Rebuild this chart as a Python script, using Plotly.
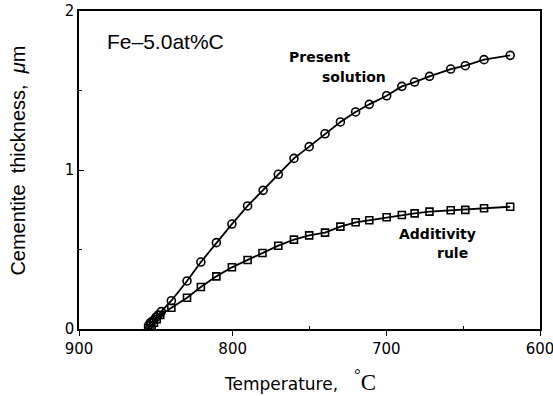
import plotly.graph_objects as go

# Present solution (circles)
temp_present = [854.6, 853.5, 851.8, 850.0, 848.4, 846.5, 839.9, 829.7, 820.7, 810.6,
                800.5, 790.3, 780.2, 770.3, 760.1, 750.2, 739.9, 729.9, 720.0, 711.1,
                699.8, 689.9, 681.6, 671.9, 658.1, 648.6, 636.4, 619.4]
thick_present = [0.025, 0.040, 0.052, 0.073, 0.088, 0.109, 0.178, 0.302, 0.421, 0.543,
                 0.660, 0.774, 0.872, 0.973, 1.073, 1.147, 1.228, 1.302, 1.365, 1.413,
                 1.467, 1.526, 1.553, 1.589, 1.635, 1.656, 1.694, 1.721]

# Additivity rule (squares)
temp_additivity = [855.0, 853.5, 851.2, 849.4, 847.1, 839.9, 829.7, 820.7, 810.6, 800.5,
                   790.3, 780.6, 770.3, 760.1, 750.2, 739.9, 729.9, 720.0, 711.1, 699.8,
                   689.9, 681.6, 671.9, 658.1, 648.6, 636.4, 619.4]
thick_additivity = [0.004, 0.019, 0.040, 0.061, 0.088, 0.134, 0.197, 0.264, 0.331, 0.388,
                    0.434, 0.478, 0.524, 0.562, 0.589, 0.606, 0.644, 0.671, 0.684, 0.703,
                    0.717, 0.727, 0.738, 0.747, 0.749, 0.759, 0.769]

fig = go.Figure()
fig.add_trace(go.Scatter(
    x=temp_present, y=thick_present, mode="lines+markers",
    line=dict(color="black", width=1.8),
    marker=dict(symbol="circle-open", size=8, color="black", line=dict(width=1.6)),
    showlegend=False))
fig.add_trace(go.Scatter(
    x=temp_additivity, y=thick_additivity, mode="lines+markers",
    line=dict(color="black", width=1.8),
    marker=dict(symbol="square-open", size=7, color="black", line=dict(width=1.6)),
    showlegend=False))

font = "DejaVu Sans, Verdana, sans-serif"
helv = "Liberation Sans, Arial, sans-serif"
fig.update_layout(
    width=553, height=396,
    margin=dict(l=79, r=13, t=11, b=67),
    paper_bgcolor="white", plot_bgcolor="white",
    font=dict(family=font, color="black"),
    xaxis=dict(range=[900, 600], tickvals=[900, 800, 700, 600], automargin=False,
               ticklabeloverflow="allow",
               ticks="outside", ticklen=5, tickwidth=1.3, tickcolor="black",
               minor=dict(ticks="inside", ticklen=3, tickvals=[850, 750, 650], tickcolor="black"),
               showline=True, linecolor="black", linewidth=1.6, mirror=True,
               showgrid=False, zeroline=False,
               tickfont=dict(size=15, family=font)),
    yaxis=dict(range=[0, 2], tickvals=[0, 1, 2], automargin=False,
               ticklabeloverflow="allow",
               ticks="inside", ticklen=5, tickwidth=1.3, tickcolor="black",
               minor=dict(ticks="inside", ticklen=3, tickvals=[0.5, 1.5], tickcolor="black"),
               showline=True, linecolor="black", linewidth=1.6, mirror=True,
               showgrid=False, zeroline=False,
               tickfont=dict(size=15, family=font)),
)

fig.add_annotation(x=0.48, y=-0.162, xref="paper", yref="paper", showarrow=False,
                   text="Temperature,&nbsp;&nbsp;&nbsp;<span style='font-family:Liberation Serif; font-size:23px'><sup style='font-size:14px'>°</sup>C</span>",
                   font=dict(size=17, family=font), xanchor="center", yanchor="middle")
fig.add_annotation(x=-0.132, y=0.53, xref="paper", yref="paper", showarrow=False,
                   text="Cementite&nbsp;&nbsp;thickness,&nbsp;&nbsp;<i>μ</i>m", textangle=-90,
                   font=dict(size=20, family=helv), xanchor="center", yanchor="middle")
fig.add_annotation(x=0.057, y=0.905, xref="paper", yref="paper", showarrow=False,
                   text="Fe–5.0at%C", font=dict(size=21, family=helv),
                   xanchor="left", yanchor="middle")
fig.add_annotation(x=0.452, y=0.855, xref="paper", yref="paper", showarrow=False,
                   text="<b>Present</b>", align="left",
                   font=dict(size=14, family=font), xanchor="left", yanchor="middle")
fig.add_annotation(x=0.522, y=0.792, xref="paper", yref="paper", showarrow=False,
                   text="<b>solution</b>", align="left",
                   font=dict(size=14, family=font), xanchor="left", yanchor="middle")
fig.add_annotation(x=0.690, y=0.298, xref="paper", yref="paper", showarrow=False,
                   text="<b>Additivity</b>", align="left",
                   font=dict(size=14, family=font), xanchor="left", yanchor="middle")
fig.add_annotation(x=0.773, y=0.238, xref="paper", yref="paper", showarrow=False,
                   text="<b>rule</b>", align="left",
                   font=dict(size=14, family=font), xanchor="left", yanchor="middle")

fig.write_html("out.html")
